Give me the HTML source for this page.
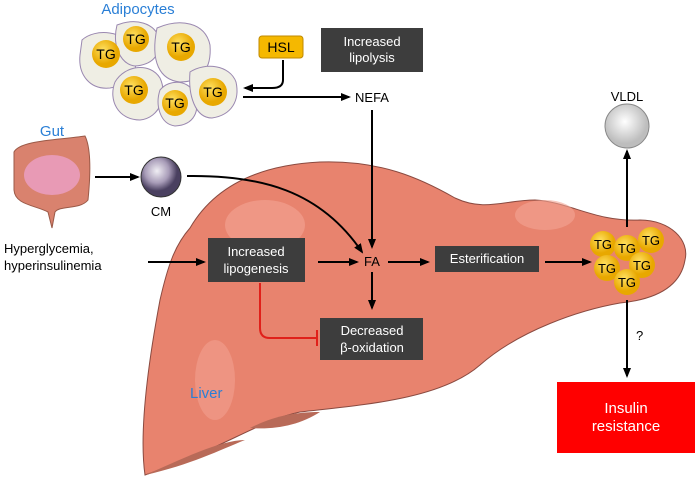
<!DOCTYPE html>
<html><head><style>body{margin:0;background:#fff}svg{display:block;font-family:"Liberation Sans",sans-serif}</style></head><body>
<svg width="700" height="477" viewBox="0 0 700 477">
<defs>
<marker id="a" markerWidth="10" markerHeight="10" refX="8" refY="5" orient="auto" markerUnits="userSpaceOnUse"><path d="M0,1 L10,5 L0,9 Z" fill="#000"/></marker>
<radialGradient id="tg" cx="40%" cy="35%"><stop offset="0" stop-color="#ffe060"/><stop offset="1" stop-color="#e8a800"/></radialGradient>
<radialGradient id="sp" cx="40%" cy="35%"><stop offset="0" stop-color="#f0eef4"/><stop offset="0.6" stop-color="#a89cb8"/><stop offset="1" stop-color="#4a4060"/></radialGradient>
<radialGradient id="vl" cx="45%" cy="40%"><stop offset="0" stop-color="#fff"/><stop offset="1" stop-color="#bdbdbd"/></radialGradient>
</defs>
<!-- liver -->
<path d="M190,228 C215,185 260,165 320,162 C380,160 420,178 455,198 C485,212 505,200 535,200 C570,202 595,222 640,220 C670,220 690,240 685,260 C680,290 650,300 620,303 C580,310 520,330 480,365 C440,400 360,405 300,412 C260,420 220,450 145,475 C140,440 145,380 160,300 C168,265 175,245 190,228 Z" fill="#e8836e" stroke="#8a4a40" stroke-width="1"/>
<path d="M145,475 C190,465 220,450 245,440 C220,440 180,460 145,475 Z" fill="#b86a58"/>
<path d="M250,428 C270,418 290,412 320,412 C300,425 275,430 250,428 Z" fill="#b86a58"/>
<ellipse cx="265" cy="225" rx="40" ry="25" fill="#f3a595" opacity="0.6"/>
<ellipse cx="215" cy="380" rx="20" ry="40" fill="#f3a595" opacity="0.5"/>
<ellipse cx="545" cy="215" rx="30" ry="15" fill="#f3a595" opacity="0.6"/>
<text x="190" y="398" font-size="15" fill="#2a7fd6">Liver</text>
<!-- adipocytes -->
<g fill="#efeee4" stroke="#9a88b0" stroke-width="1">
<path d="M82,40 C95,28 125,30 135,50 C140,70 130,85 110,88 C90,90 78,75 80,55 Z"/>
<path d="M117,25 C135,18 155,22 160,40 C160,58 150,65 135,66 C120,64 112,45 117,25 Z"/>
<path d="M157,28 C180,18 205,22 210,45 C212,70 200,82 180,82 C160,80 150,62 157,28 Z"/>
<path d="M115,82 C125,65 150,62 160,78 C168,95 160,118 140,120 C118,120 108,100 115,82 Z"/>
<path d="M160,90 C170,78 190,80 195,95 C200,110 195,125 175,126 C160,124 155,105 160,90 Z"/>
<path d="M190,72 C205,62 230,65 236,82 C240,100 232,115 212,118 C195,118 188,95 190,72 Z"/>
</g>
<g font-size="14" text-anchor="middle" fill="#000">
<circle cx="106" cy="54" r="14" fill="url(#tg)"/><text x="106" y="59">TG</text>
<circle cx="136" cy="39" r="13" fill="url(#tg)"/><text x="136" y="44">TG</text>
<circle cx="181" cy="47" r="14" fill="url(#tg)"/><text x="181" y="52">TG</text>
<circle cx="134" cy="90" r="14" fill="url(#tg)"/><text x="134" y="95">TG</text>
<circle cx="175" cy="103" r="13" fill="url(#tg)"/><text x="175" y="108">TG</text>
<circle cx="213" cy="92" r="14" fill="url(#tg)"/><text x="213" y="97">TG</text>
</g>
<text x="138" y="14" font-size="15" fill="#2a7fd6" text-anchor="middle">Adipocytes</text>
<!-- HSL -->
<rect x="259" y="36" width="44" height="22" rx="3" fill="#f5b800" stroke="#c08a00"/>
<text x="281" y="52" font-size="14" text-anchor="middle">HSL</text>
<path d="M283,60 L283,80 Q283,88 272,88 L245,88" fill="none" stroke="#000" stroke-width="2" marker-end="url(#a)"/>
<rect x="321" y="28" width="102" height="44" fill="#3d3d3d"/>
<text x="372" y="46" font-size="13" fill="#fff" text-anchor="middle">Increased</text>
<text x="372" y="62" font-size="13" fill="#fff" text-anchor="middle">lipolysis</text>
<line x1="243" y1="97" x2="349" y2="97" stroke="#000" stroke-width="2" marker-end="url(#a)"/>
<text x="372" y="102" font-size="13" text-anchor="middle">NEFA</text>
<line x1="372" y1="110" x2="372" y2="247" stroke="#000" stroke-width="2" marker-end="url(#a)"/>
<!-- gut -->
<text x="52" y="136" font-size="15" fill="#2a7fd6" text-anchor="middle">Gut</text>
<path d="M14,152 C20,140 60,140 85,136 C92,150 90,180 88,200 C80,210 60,205 55,212 L52,228 L48,212 C35,205 15,205 14,190 Z" fill="#d9826e" stroke="#9b5a48"/>
<ellipse cx="52" cy="175" rx="28" ry="20" fill="#e89ab5"/>
<line x1="95" y1="177" x2="138" y2="177" stroke="#000" stroke-width="2" marker-end="url(#a)"/>
<circle cx="161" cy="177" r="20" fill="url(#sp)" stroke="#333"/>
<text x="161" y="216" font-size="13" text-anchor="middle">CM</text>
<path d="M187,176 C260,175 320,190 362,252" fill="none" stroke="#000" stroke-width="2" marker-end="url(#a)"/>
<!-- left text -->
<text x="4" y="253" font-size="13">Hyperglycemia,</text>
<text x="4" y="270" font-size="13">hyperinsulinemia</text>
<line x1="148" y1="262" x2="204" y2="262" stroke="#000" stroke-width="2" marker-end="url(#a)"/>
<rect x="208" y="238" width="97" height="44" fill="#3d3d3d"/>
<text x="256" y="256" font-size="13" fill="#fff" text-anchor="middle">Increased</text>
<text x="256" y="273" font-size="13" fill="#fff" text-anchor="middle">lipogenesis</text>
<line x1="318" y1="262" x2="357" y2="262" stroke="#000" stroke-width="2" marker-end="url(#a)"/>
<text x="372" y="266" font-size="13" text-anchor="middle">FA</text>
<line x1="388" y1="262" x2="428" y2="262" stroke="#000" stroke-width="2" marker-end="url(#a)"/>
<rect x="435" y="246" width="104" height="26" fill="#3d3d3d"/>
<text x="487" y="263" font-size="13" fill="#fff" text-anchor="middle">Esterification</text>
<line x1="545" y1="262" x2="590" y2="262" stroke="#000" stroke-width="2" marker-end="url(#a)"/>
<line x1="372" y1="272" x2="372" y2="308" stroke="#000" stroke-width="2" marker-end="url(#a)"/>
<rect x="320" y="318" width="103" height="42" fill="#3d3d3d"/>
<text x="372" y="335" font-size="13" fill="#fff" text-anchor="middle">Decreased</text>
<text x="372" y="352" font-size="13" fill="#fff" text-anchor="middle">β-oxidation</text>
<path d="M260,283 L260,328 Q260,338 270,338 L316,338" fill="none" stroke="#e0201a" stroke-width="2"/>
<line x1="317" y1="330" x2="317" y2="346" stroke="#e0201a" stroke-width="2"/>
<!-- TG cluster -->
<g font-size="13" text-anchor="middle">
<circle cx="603" cy="244" r="13" fill="url(#tg)"/><text x="603" y="249">TG</text>
<circle cx="627" cy="248" r="13" fill="url(#tg)"/><text x="627" y="253">TG</text>
<circle cx="651" cy="240" r="13" fill="url(#tg)"/><text x="651" y="245">TG</text>
<circle cx="607" cy="268" r="13" fill="url(#tg)"/><text x="607" y="273">TG</text>
<circle cx="642" cy="265" r="13" fill="url(#tg)"/><text x="642" y="270">TG</text>
<circle cx="627" cy="282" r="13" fill="url(#tg)"/><text x="627" y="287">TG</text>
</g>
<line x1="627" y1="227" x2="627" y2="151" stroke="#000" stroke-width="2" marker-end="url(#a)"/>
<circle cx="627" cy="126" r="22" fill="url(#vl)" stroke="#888"/>
<text x="627" y="101" font-size="13" text-anchor="middle">VLDL</text>
<line x1="627" y1="300" x2="627" y2="376" stroke="#000" stroke-width="2" marker-end="url(#a)"/>
<text x="636" y="340" font-size="13">?</text>
<rect x="557" y="382" width="138" height="71" fill="#f00"/>
<text x="626" y="413" font-size="15" fill="#fff" text-anchor="middle">Insulin</text>
<text x="626" y="431" font-size="15" fill="#fff" text-anchor="middle">resistance</text>
</svg>
</body></html>
